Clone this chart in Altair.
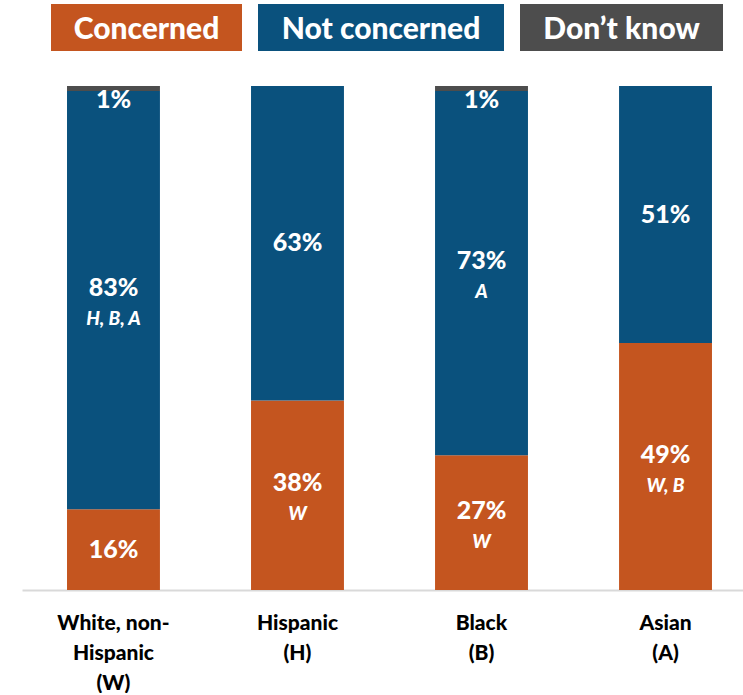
import altair as alt
import pandas as pd

# ---- data ----
groups = ["White, non-\nHispanic\n(W)", "Hispanic\n(H)", "Black\n(B)", "Asian\n(A)"]
responses = ["Concerned", "Not concerned", "Don\u2019t know"]
concerned = [16, 38, 27, 49]
not_concerned = [83, 63, 73, 51]
dont_know = [1, 0, 1, 0]
sig_concerned = ["", "W", "W", "W, B"]
sig_not_concerned = ["H, B, A", "", "A", ""]
sig_dont_know = ["", "", "", ""]

# ---- style / layout ----
colors = ["#C4551F", "#0A517D", "#4D4D4D"]
FONT = "Lato"
WEIGHT = 900
PLOT_W = 721
PLOT_H = 504
LEGEND_H = 47
LEGEND_START = 29
LEGEND_GAP = 16
LEGEND_BOX_W = [191, 246, 203]

rows = []
for i, g in enumerate(groups):
    for j, (r, vals, sigs) in enumerate(
        zip(responses, [concerned, not_concerned, dont_know],
            [sig_concerned, sig_not_concerned, sig_dont_know])):
        rows.append(dict(group=g, response=r, order=j, value=vals[i],
                         label=f"{vals[i]}%", sig=sigs[i]))
df = pd.DataFrame(rows)

leg_rows = []
pos = LEGEND_START
for r, w in zip(responses, LEGEND_BOX_W):
    leg_rows.append(dict(response=r, start=pos, end=pos + w, mid=pos + w / 2))
    pos += w + LEGEND_GAP
leg_df = pd.DataFrame(leg_rows)

color = alt.Color("response:N", scale=alt.Scale(domain=responses, range=colors), legend=None)

# ---- legend chart ----
lx = alt.Scale(domain=[0, PLOT_W], nice=False, zero=False)
leg_base = alt.Chart(leg_df)
leg_rect = leg_base.mark_rect().encode(
    x=alt.X("start:Q", scale=lx, axis=None), x2="end:Q", color=color)
leg_text = leg_base.mark_text(font=FONT, fontSize=30, fontWeight=WEIGHT, color="white",
                              baseline="middle", dy=2).encode(
    x=alt.X("mid:Q", scale=lx, axis=None), text="response:N")
legend = (leg_rect + leg_text).properties(width=PLOT_W, height=LEGEND_H)

# ---- main chart ----
x = alt.X("group:N", sort=groups,
          scale=alt.Scale(paddingInner=0.495, paddingOuter=0.2066, align=0.592),
          axis=alt.Axis(title=None, labelAngle=0, ticks=False, grid=False,
                        domainColor="#d9d9d9", domainWidth=2,
                        labelFont=FONT, labelFontSize=21, labelFontWeight=WEIGHT,
                        labelColor="#000000", labelPadding=22, labelLineHeight=30,
                        labelExpr="split(datum.label, '\\n')"))
yscale = alt.Scale(domain=[0, 1], nice=False)

base = alt.Chart(df).transform_stack(
    stack="value", groupby=["group"], as_=["v0", "v1"], offset="normalize",
    sort=[alt.SortField("order", "ascending")]
).transform_calculate(mid="(datum.v0 + datum.v1) / 2")

bars = base.mark_bar().encode(
    x=x, y=alt.Y("v0:Q", scale=yscale, axis=None), y2="v1:Q", color=color)

dk = "Don\u2019t know"
pct_sig = base.transform_filter(
    f"datum.response != '{dk}' && datum.sig != '' && datum.value > 0"
).mark_text(font=FONT, fontSize=25, fontWeight=WEIGHT, color="white",
            baseline="middle", dy=-12).encode(x=x, y=alt.Y("mid:Q", scale=yscale), text="label:N")
pct_nosig = base.transform_filter(
    f"datum.response != '{dk}' && datum.sig == '' && datum.value > 0"
).mark_text(font=FONT, fontSize=25, fontWeight=WEIGHT, color="white",
            baseline="middle").encode(x=x, y=alt.Y("mid:Q", scale=yscale), text="label:N")
sig_text = base.transform_filter("datum.sig != ''").mark_text(
    font=FONT, fontSize=19, fontWeight=WEIGHT, fontStyle="italic", color="white",
    baseline="middle", dy=19).encode(x=x, y=alt.Y("mid:Q", scale=yscale), text="sig:N")
dk_text = base.transform_filter(f"datum.response == '{dk}' && datum.value > 0").mark_text(
    font=FONT, fontSize=25, fontWeight=WEIGHT, color="white",
    baseline="top", dy=2).encode(x=x, y=alt.Y("v1:Q", scale=yscale), text="label:N")

main = (bars + pct_sig + pct_nosig + sig_text + dk_text).properties(width=PLOT_W, height=PLOT_H)

chart = alt.vconcat(legend, main, spacing=35).properties(
    padding={"left": 22, "top": 4, "right": 0, "bottom": 0},
    background="white"
).configure_view(stroke=None)

chart.save("out.html", embed_options={"renderer": "svg", "actions": False})
